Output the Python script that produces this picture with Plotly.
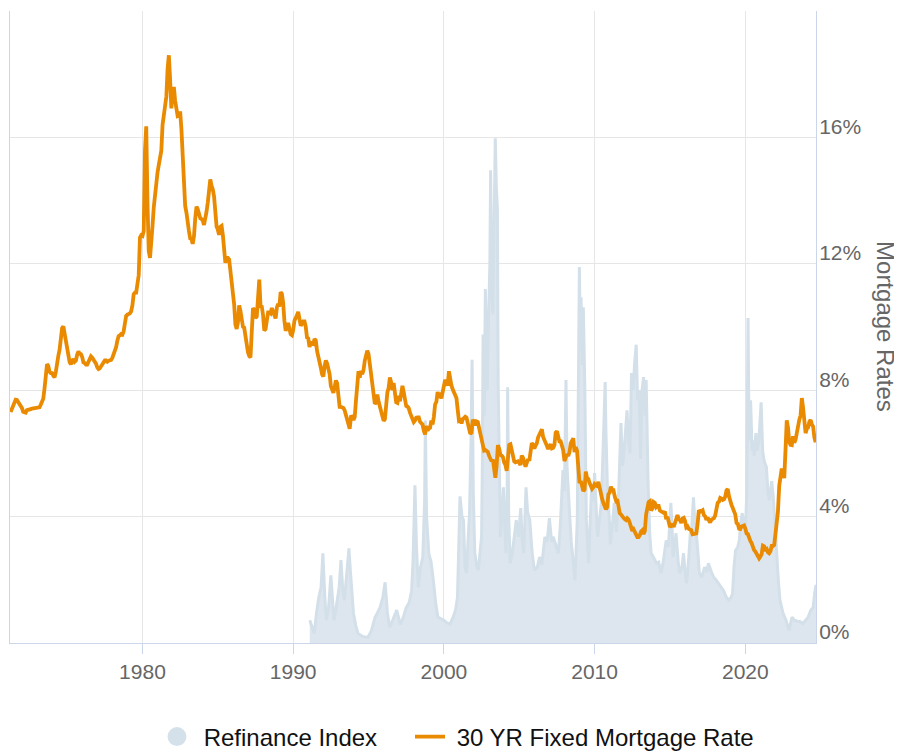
import plotly.graph_objects as go

# ---------------- data ----------------
# 30 YR fixed mortgage rate, monthly, starting April 1971
rate_start_year = 1971
rate_start_month = 4
mortgage_rate = [
    7.31, 7.43, 7.53, 7.60, 7.70, 7.69, 7.63, 7.55, 7.48,
    7.44, 7.32, 7.29, 7.29, 7.37, 7.37, 7.40, 7.40, 7.42, 7.43, 7.44, 7.44,
    7.44, 7.44, 7.46, 7.54, 7.65, 7.73, 8.05, 8.50, 8.82, 8.77, 8.58, 8.54,
    8.54, 8.46, 8.41, 8.58, 8.97, 9.09, 9.28, 9.59, 9.96, 10.02, 9.79, 9.62,
    9.43, 9.10, 8.89, 8.82, 8.94, 8.99, 8.90, 8.94, 9.13, 9.23, 9.15, 9.14,
    9.05, 8.88, 8.86, 8.81, 8.81, 8.92, 9.01, 9.07, 9.03, 8.97, 8.91, 8.84,
    8.72, 8.67, 8.69, 8.75, 8.83, 8.86, 8.94, 8.94, 8.90, 8.93, 8.93, 8.96,
    9.02, 9.15, 9.20, 9.36, 9.57, 9.71, 9.74, 9.78, 9.76, 9.86, 10.11, 10.35,
    10.39, 10.41, 10.43, 10.50, 10.69, 11.04, 11.09, 11.09, 11.30, 11.64, 12.83, 12.90,
    12.88, 13.04, 15.60, 16.35, 13.90, 12.40, 12.19, 12.56, 13.20, 13.79, 14.21, 14.79,
    14.90, 15.13, 15.40, 15.58, 16.40, 16.70, 16.83, 17.29, 18.16, 18.60, 17.83, 16.92,
    17.40, 17.60, 17.16, 16.89, 16.68, 16.70, 16.82, 16.27, 15.43, 14.61, 13.83, 13.62,
    13.25, 13.04, 12.80, 12.78, 12.63, 12.87, 13.43, 13.81, 13.73, 13.54, 13.44, 13.42,
    13.37, 13.23, 13.39, 13.65, 13.94, 14.42, 14.67, 14.47, 14.35, 14.13, 13.64, 13.18,
    13.08, 12.92, 13.17, 13.20, 12.91, 12.22, 12.03, 12.19, 12.19, 12.14, 11.78, 11.26,
    10.88, 10.71, 10.08, 9.94, 10.14, 10.68, 10.51, 10.20, 10.01, 9.98, 9.70, 9.31,
    9.20, 9.08, 9.04, 9.83, 10.60, 10.54, 10.28, 10.33, 10.89, 11.50, 10.65, 10.64,
    10.38, 9.89, 9.93, 10.20, 10.46, 10.46, 10.43, 10.60, 10.48, 10.30, 10.27, 10.61,
    10.73, 10.65, 11.10, 11.05, 10.77, 10.20, 9.88, 9.99, 10.13, 9.95, 9.77, 9.74,
    9.90, 10.20, 10.27, 10.37, 10.48, 10.16, 10.04, 10.10, 10.18, 10.18, 10.01, 9.67,
    9.64, 9.37, 9.50, 9.49, 9.47, 9.62, 9.58, 9.24, 9.01, 8.86, 8.71, 8.50,
    8.43, 8.76, 8.94, 8.85, 8.67, 8.51, 8.13, 7.98, 7.92, 8.09, 8.31, 8.22,
    7.91, 7.47, 7.47, 7.47, 7.44, 7.36, 7.21, 7.11, 6.91, 6.78, 7.16, 7.17,
    7.06, 7.15, 7.68, 8.32, 8.60, 8.40, 8.61, 8.51, 8.64, 8.93, 9.17, 9.25,
    9.15, 8.83, 8.46, 8.32, 7.96, 7.57, 7.61, 7.86, 7.64, 7.48, 7.38, 7.20,
    7.03, 7.08, 7.62, 7.93, 8.07, 8.40, 8.25, 8.00, 8.23, 7.92, 7.62, 7.60,
    7.82, 7.65, 7.90, 8.14, 7.94, 7.69, 7.50, 7.48, 7.43, 7.29, 7.21, 7.10,
    6.99, 7.04, 7.13, 7.14, 7.14, 7.00, 6.95, 6.92, 6.72, 6.60, 6.87, 6.72,
    6.79, 6.81, 7.04, 6.92, 7.15, 7.55, 7.63, 7.94, 7.82, 7.85, 7.74, 7.91,
    8.21, 8.33, 8.24, 8.15, 8.60, 8.29, 8.15, 8.03, 7.91, 7.80, 7.75, 7.38,
    7.03, 7.05, 6.95, 7.08, 7.15, 7.16, 7.13, 6.95, 6.82, 6.62, 6.66, 7.07,
    7.00, 6.89, 7.01, 6.99, 6.81, 6.65, 6.49, 6.29, 6.09, 6.11, 6.07, 6.05,
    5.92, 5.84, 5.75, 5.81, 5.48, 5.23, 5.63, 6.26, 6.15, 5.95, 5.93, 5.88,
    5.71, 5.64, 5.45, 5.83, 6.27, 6.29, 6.06, 5.87, 5.75, 5.72, 5.73, 5.75,
    5.71, 5.63, 5.93, 5.86, 5.72, 5.58, 5.70, 5.82, 5.77, 6.07, 6.33, 6.27,
    6.15, 6.25, 6.32, 6.51, 6.60, 6.68, 6.76, 6.52, 6.40, 6.36, 6.24, 6.14,
    6.22, 6.29, 6.16, 6.18, 6.26, 6.66, 6.70, 6.57, 6.38, 6.38, 6.21, 6.10,
    5.76, 5.92, 5.97, 5.92, 6.04, 6.32, 6.43, 6.48, 6.04, 6.20, 6.09, 5.29,
    5.06, 5.13, 5.00, 4.81, 4.86, 5.42, 5.22, 5.19, 5.06, 4.95, 4.88, 4.93,
    5.03, 4.99, 4.97, 5.10, 4.89, 4.74, 4.56, 4.43, 4.35, 4.23, 4.30, 4.71,
    4.76, 4.95, 4.84, 4.84, 4.64, 4.51, 4.55, 4.27, 4.11, 4.07, 3.99, 3.96,
    3.92, 3.89, 3.95, 3.91, 3.80, 3.68, 3.55, 3.60, 3.50, 3.38, 3.35, 3.35,
    3.41, 3.53, 3.57, 3.45, 3.54, 4.07, 4.37, 4.46, 4.49, 4.19, 4.26, 4.46,
    4.43, 4.30, 4.34, 4.34, 4.19, 4.16, 4.13, 4.12, 4.16, 3.92, 4.00, 3.86,
    3.67, 3.71, 3.77, 3.67, 3.84, 3.98, 4.05, 3.91, 3.89, 3.80, 3.94, 3.96,
    3.87, 3.66, 3.69, 3.61, 3.60, 3.57, 3.44, 3.44, 3.46, 3.47, 3.77, 4.20,
    4.15, 4.17, 4.20, 4.05, 4.01, 3.90, 3.97, 3.88, 3.81, 3.90, 3.92, 3.95,
    4.03, 4.33, 4.44, 4.47, 4.59, 4.57, 4.53, 4.55, 4.63, 4.83, 4.87, 4.64,
    4.46, 4.37, 4.27, 4.14, 4.07, 3.80, 3.77, 3.62, 3.61, 3.69, 3.70, 3.72,
    3.62, 3.47, 3.45, 3.31, 3.23, 3.16, 3.02, 2.94, 2.89, 2.83, 2.77, 2.68,
    2.74, 2.81, 3.08, 3.06, 2.96, 2.98, 2.87, 2.84, 2.90, 3.07, 3.07, 3.10,
    3.45, 3.76, 4.17, 4.98, 5.23, 5.52, 5.41, 5.22, 6.11, 7.05, 6.81, 6.36,
    6.27, 6.26, 6.54, 6.34, 6.43, 6.71, 6.84, 7.07, 7.20, 7.75, 7.44, 6.82,
    6.64, 6.78, 6.82, 7.00, 7.06, 6.92, 6.85, 6.50, 6.35,
]

# Refinance index (decimal year, index value)
refi_years = [
    1991.10, 1991.25, 1991.40, 1991.55, 1991.70, 1991.85, 1991.97, 1992.10, 1992.20, 1992.35,
    1992.50, 1992.60, 1992.70, 1992.80, 1992.90, 1993.05, 1993.17, 1993.30, 1993.40, 1993.55,
    1993.70, 1993.80, 1993.90, 1994.00, 1994.15, 1994.30, 1994.60, 1994.96, 1995.20, 1995.43,
    1995.60, 1995.77, 1995.95, 1996.10, 1996.25, 1996.40, 1996.60, 1996.87, 1997.10, 1997.30,
    1997.50, 1997.70, 1997.86, 1997.95, 1998.08, 1998.18, 1998.30, 1998.45, 1998.60, 1998.72,
    1998.77, 1998.85, 1999.00, 1999.15, 1999.30, 1999.45, 1999.60, 1999.80, 2000.00, 2000.20,
    2000.40, 2000.60, 2000.77, 2000.90, 2001.00, 2001.07, 2001.20, 2001.30, 2001.40, 2001.50,
    2001.60, 2001.70, 2001.80, 2001.87, 2001.95, 2002.05, 2002.20, 2002.30, 2002.40, 2002.50,
    2002.55, 2002.60, 2002.68, 2002.75, 2002.80, 2002.88, 2002.95, 2003.05, 2003.10, 2003.18,
    2003.25, 2003.32, 2003.41, 2003.48, 2003.55, 2003.60, 2003.67, 2003.75, 2003.85, 2003.95,
    2004.05, 2004.12, 2004.20, 2004.23, 2004.30, 2004.40, 2004.55, 2004.70, 2004.80, 2004.95,
    2005.10, 2005.20, 2005.30, 2005.45, 2005.55, 2005.70, 2005.85, 2006.00, 2006.20, 2006.35,
    2006.50, 2006.70, 2006.85, 2007.00, 2007.15, 2007.25, 2007.45, 2007.60, 2007.72, 2007.80,
    2007.90, 2008.00, 2008.10, 2008.17, 2008.25, 2008.35, 2008.45, 2008.60, 2008.70, 2008.85,
    2008.95, 2008.99, 2009.05, 2009.10, 2009.18, 2009.25, 2009.35, 2009.45, 2009.60, 2009.70,
    2009.80, 2009.90, 2010.00, 2010.10, 2010.20, 2010.35, 2010.45, 2010.58, 2010.70, 2010.75,
    2010.85, 2011.00, 2011.05, 2011.20, 2011.30, 2011.45, 2011.60, 2011.75, 2011.85, 2011.95,
    2012.05, 2012.15, 2012.25, 2012.35, 2012.45, 2012.55, 2012.65, 2012.76, 2012.85, 2012.95,
    2013.05, 2013.15, 2013.25, 2013.35, 2013.42, 2013.50, 2013.55, 2013.65, 2013.75, 2013.90,
    2014.10, 2014.25, 2014.40, 2014.55, 2014.75, 2014.90, 2015.06, 2015.15, 2015.20, 2015.30,
    2015.40, 2015.55, 2015.65, 2015.80, 2015.90, 2016.00, 2016.10, 2016.25, 2016.35, 2016.45,
    2016.56, 2016.65, 2016.75, 2016.85, 2016.95, 2017.10, 2017.30, 2017.45, 2017.55, 2017.75,
    2017.90, 2018.05, 2018.20, 2018.40, 2018.55, 2018.75, 2018.90, 2019.05, 2019.15, 2019.25,
    2019.35, 2019.50, 2019.60, 2019.70, 2019.80, 2019.90, 2020.00, 2020.10, 2020.18, 2020.25,
    2020.35, 2020.45, 2020.50, 2020.60, 2020.70, 2020.80, 2020.90, 2021.05, 2021.15, 2021.25,
    2021.40, 2021.50, 2021.60, 2021.75, 2021.85, 2022.00, 2022.10, 2022.20, 2022.30, 2022.40,
    2022.50, 2022.70, 2022.85, 2022.90, 2023.10, 2023.25, 2023.45, 2023.65, 2023.80, 2024.00,
    2024.15, 2024.35, 2024.50, 2024.60, 2024.69,
]
refi_index = [
    450, 300, 190, 600, 905, 1100, 1775, 900, 450, 700,
    1340, 900, 450, 600, 845, 1100, 1640, 1000, 845, 1300,
    1870, 1400, 1000, 590, 350, 190, 130, 110, 250, 510,
    600, 710, 900, 1200, 600, 310, 450, 650, 370, 500,
    700, 800, 1040, 1600, 3120, 1900, 1100, 1500, 1700, 2800,
    4400, 2500, 1770, 1600, 1240, 800, 510, 480, 450, 400,
    370, 500, 650, 900, 2000, 2900, 2500, 2430, 1500, 1380,
    2000, 2570, 4000, 5600, 3000, 1775, 1500, 1440, 1800, 2100,
    3500, 6100, 4500, 7000, 6200, 5000, 6250, 7500, 9350, 7000,
    6500, 8600, 9985, 9000, 8600, 5140, 3500, 2090, 2500, 3080,
    2200, 1775, 3000, 5060, 2500, 1580, 1800, 2200, 2430, 2100,
    2670, 2000, 1775, 3080, 2600, 2430, 1800, 1440, 1500, 1700,
    1550, 2100, 2000, 2470, 2000, 2100, 1900, 1775, 2300, 2900,
    3420, 3000, 5200, 3500, 2900, 2500, 2000, 1500, 1240, 2430,
    5500, 7435, 6000, 6840, 5500, 6640, 5060, 2430, 1580, 2200,
    3080, 2800, 3360, 2700, 2100, 2500, 2770, 4000, 5160, 4200,
    3080, 2300, 1950, 2400, 2770, 2200, 3000, 4350, 3500, 3750,
    4200, 4600, 4000, 3750, 5340, 5000, 5500, 5900, 4800, 5000,
    3640, 5000, 5260, 4500, 5200, 3800, 3160, 2200, 1775, 1700,
    1580, 1600, 1380, 1600, 2030, 1900, 2770, 2200, 1700, 1900,
    2170, 1600, 1380, 1500, 1775, 1400, 1180, 1700, 2170, 2300,
    2880, 2400, 2170, 1800, 1380, 1300, 1500, 1400, 1580, 1400,
    1300, 1250, 1180, 1100, 1040, 900, 845, 900, 970, 1500,
    1830, 1900, 2030, 2400, 2570, 2300, 2170, 3000, 6430, 4000,
    4800, 3800, 4010, 3700, 4150, 3800, 4010, 4760, 3800, 3600,
    3480, 3000, 2820, 3200, 2900, 2200, 1600, 1200, 845, 700,
    590, 450, 300, 250, 510, 450, 430, 420, 380, 450,
    500, 650, 700, 980, 1150,
]

x_tick_years = [1980, 1990, 2000, 2010, 2020]
rate_tick_values = [0, 4, 8, 12, 16, 20]
rate_tick_labels = ["0%", "4%", "8%", "12%", "16%", ""]

series_names = ["Refinance Index", "30 YR Fixed Mortgage Rate"]
axis_title = "Mortgage Rates"

# decimal-year positions for the monthly mortgage series
rate_years = [rate_start_year + (rate_start_month - 1 + i) / 12.0 for i in range(len(mortgage_rate))]

# ---------------- styling ----------------
# the page body has an 8px default margin, so the figure is sized to the remaining window
FIG_W, FIG_H = 894, 746
FONT = "Liberation Sans, Arial, Helvetica, sans-serif"
ORANGE = "#e98a00"
REFI_LINE = "#d3e0e9"
REFI_FILL = "#dde6ee"
AXIS_LINE = "#ccd6eb"
GRID = "#e6e6e6"
TICK_TXT = "#666666"
NB = "\u00a0"

fig = go.Figure()

fig.add_trace(go.Scatter(
    x=refi_years, y=refi_index, yaxis="y",
    mode="lines", fill="tozeroy",
    line=dict(color=REFI_LINE, width=3),
    fillcolor=REFI_FILL,
    name=series_names[0], showlegend=False, hoverinfo="skip",
))
# legend marker for the refinance series (circle symbol)
fig.add_trace(go.Scatter(
    x=[None], y=[None], yaxis="y", mode="markers",
    marker=dict(size=16, color="#d5e1ea", line=dict(color="#d5e1ea", width=3)),
    name=NB + series_names[0], showlegend=True, legendwidth=208,
))
fig.add_trace(go.Scatter(
    x=rate_years, y=mortgage_rate, yaxis="y2",
    mode="lines", line=dict(color=ORANGE, width=3.8),
    name=NB + series_names[1],
))

fig.update_layout(
    width=FIG_W, height=FIG_H,
    margin=dict(l=2, r=86, t=3, b=111),
    paper_bgcolor="white", plot_bgcolor="white",
    font=dict(family=FONT, size=21, color=TICK_TXT),
    xaxis=dict(
        range=[1971.21, 2024.69],
        tickvals=x_tick_years,
        ticktext=[str(v) for v in x_tick_years],
        ticks="outside", ticklen=10, tickcolor=AXIS_LINE, tickwidth=1,
        showline=True, linecolor=AXIS_LINE, linewidth=1,
        showgrid=True, gridcolor=GRID, gridwidth=1,
        zeroline=False,
        tickfont=dict(family=FONT, size=21, color=TICK_TXT),
    ),
    yaxis=dict(
        range=[0, 12500], side="left",
        showgrid=False, zeroline=False, showticklabels=False,
        showline=True, linecolor=AXIS_LINE, linewidth=1, ticks="",
    ),
    yaxis2=dict(
        range=[0, 20], overlaying="y", side="right",
        tickvals=rate_tick_values, ticktext=rate_tick_labels,
        showgrid=True, gridcolor=GRID, gridwidth=1,
        zeroline=False, showline=True, linecolor=AXIS_LINE, linewidth=1,
        ticks="", ticklabelshift=-11, ticklabelstandoff=-2,
        tickfont=dict(family=FONT, size=21, color=TICK_TXT),
    ),
    legend=dict(
        orientation="h",
        xref="container", yref="container",
        x=149 / FIG_W, xanchor="left", y=17 / FIG_H, yanchor="middle",
        font=dict(family=FONT, size=24, color="#111111"),
        bgcolor="rgba(0,0,0,0)", borderwidth=0,
    ),
    showlegend=True,
    annotations=[dict(
        text=axis_title, xref="paper", yref="paper",
        x=1.0868, y=0.5, xanchor="center", yanchor="middle",
        textangle=90, showarrow=False,
        font=dict(family=FONT, size=24, color=TICK_TXT),
    )],
)

fig.write_html("out.html")
